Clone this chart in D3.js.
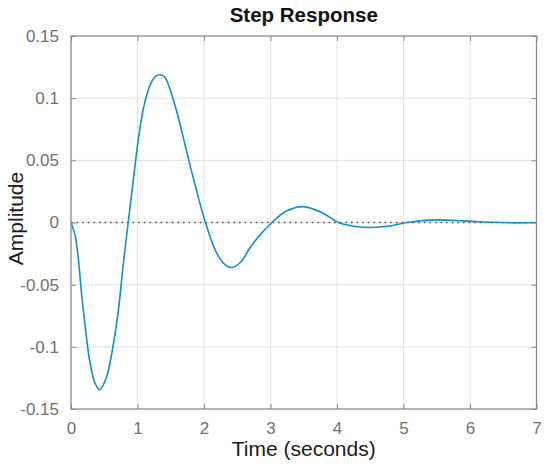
<!DOCTYPE html>
<meta charset='utf-8'>
<style>
    body {
        margin: 0;
        background: #fff;
        font-family: 'Liberation Sans', Arial, sans-serif;
    }

    .tick text {
        fill: #707070;
        font-size: 17px;
    }
</style>
<body>
    <script src='https://d3js.org/d3.v7.min.js'></script>
    <script>
        // values
        const times = [
            0, 0.06, 0.11, 0.16, 0.21, 0.28, 0.36, 0.43, 0.53, 0.61, 0.71, 0.785, 0.86,
            0.94, 1.015, 1.09, 1.19, 1.27, 1.34, 1.41, 1.465, 1.59, 1.74, 1.865, 2.01,
            2.19, 2.32, 2.42, 2.55, 2.69, 2.85, 3.02, 3.24, 3.49, 3.79, 4.02, 4.3, 4.5,
            4.8, 5.05, 5.5, 5.9, 6.3, 6.7, 7
        ];
        const amplitude = [
            0, -0.010, -0.029, -0.058, -0.082, -0.111, -0.129, -0.1345, -0.125, -0.106, -0.0716, -0.0341, 0,
            0.0357, 0.0679, 0.092, 0.1107, 0.1175, 0.1188, 0.117, 0.1107, 0.0893, 0.057, 0.0304, 0.002,
            -0.0245, -0.034, -0.0362, -0.032, -0.0205, -0.0095, 0, 0.0092, 0.0128, 0.0075, 0, -0.0034, -0.0040,
            -0.0028, 0, 0.0021, 0.0013, 0.0002, -0.0003, 0
        ];
        const xTicks = [0, 1, 2, 3, 4, 5, 6, 7];
        const yTicks = [-0.15, -0.1, -0.05, 0, 0.05, 0.1, 0.15];

        const W = 550, H = 472;
        const margin = { top: 36, right: 13.5, bottom: 63, left: 71 },
            width = W - margin.left - margin.right,
            height = H - margin.top - margin.bottom;

        const svg = d3.select('body').append('svg')
            .attr('width', W)
            .attr('height', H);

        const g = svg.append('g')
            .attr('transform', `translate(${margin.left},${margin.top})`);

        const x = d3.scaleLinear().domain([0, 7]).range([0, width]);
        const y = d3.scaleLinear().domain([-0.15, 0.15]).range([height, 0]);

        const fmt = d => d === 0 ? '0' : String(+d.toFixed(2));

        // grid
        g.append('g').selectAll('line')
            .data(xTicks.slice(1, -1))
            .join('line')
            .attr('x1', d => x(d)).attr('x2', d => x(d))
            .attr('y1', 0).attr('y2', height)
            .attr('stroke', '#e3e3e3');
        g.append('g').selectAll('line')
            .data(yTicks.slice(1, -1))
            .join('line')
            .attr('y1', d => y(d)).attr('y2', d => y(d))
            .attr('x1', 0).attr('x2', width)
            .attr('stroke', '#e3e3e3');

        // zero reference
        g.append('line')
            .attr('x1', 0).attr('x2', width)
            .attr('y1', y(0)).attr('y2', y(0))
            .attr('stroke', '#555')
            .attr('stroke-width', 1.6)
            .attr('stroke-dasharray', '1.6,4');

        // response curve
        const pts = times.map((t, i) => [t, amplitude[i]]);
        g.append('path')
            .datum(pts)
            .attr('fill', 'none')
            .attr('stroke', '#0f8fd2')
            .attr('stroke-width', 1.6)
            .attr('d', d3.line().x(d => x(d[0])).y(d => y(d[1])).curve(d3.curveCatmullRom.alpha(0.5)));

        // axes
        const styleAxis = sel => {
            sel.select('.domain').remove();
            sel.selectAll('.tick line').attr('stroke', '#8a8a8a');
        };

        g.append('g')
            .attr('transform', `translate(0,${height})`)
            .call(d3.axisBottom(x).tickValues(xTicks).tickFormat(fmt).tickSizeInner(-5).tickPadding(13))
            .call(styleAxis)
            .call(s => s.selectAll('.tick text').attr('dy', '0.71em'));

        g.append('g')
            .call(d3.axisTop(x).tickValues(xTicks).tickFormat('').tickSizeInner(-5))
            .call(styleAxis);

        g.append('g')
            .call(d3.axisLeft(y).tickValues(yTicks).tickFormat(fmt).tickSizeInner(-5).tickPadding(12))
            .call(styleAxis);

        g.append('g')
            .attr('transform', `translate(${width},0)`)
            .call(d3.axisRight(y).tickValues(yTicks).tickFormat('').tickSizeInner(-5))
            .call(styleAxis);

        // frame
        g.append('rect')
            .attr('width', width)
            .attr('height', height)
            .attr('fill', 'none')
            .attr('stroke', '#8a8a8a')
            .attr('stroke-width', 1.3);

        // titles
        svg.append('text')
            .attr('x', margin.left + width / 2)
            .attr('y', 22)
            .attr('text-anchor', 'middle')
            .attr('font-weight', 'bold')
            .attr('font-size', 20.5)
            .attr('fill', '#111')
            .text('Step Response');

        svg.append('text')
            .attr('x', margin.left + width / 2)
            .attr('y', 456)
            .attr('text-anchor', 'middle')
            .attr('font-size', 21)
            .attr('fill', '#1a1a1a')
            .text('Time (seconds)');

        svg.append('text')
            .attr('transform', `translate(23,${margin.top + y(0) - 4}) rotate(-90)`)
            .attr('text-anchor', 'middle')
            .attr('font-size', 21)
            .attr('fill', '#1a1a1a')
            .text('Amplitude');
    </script>
</body>
